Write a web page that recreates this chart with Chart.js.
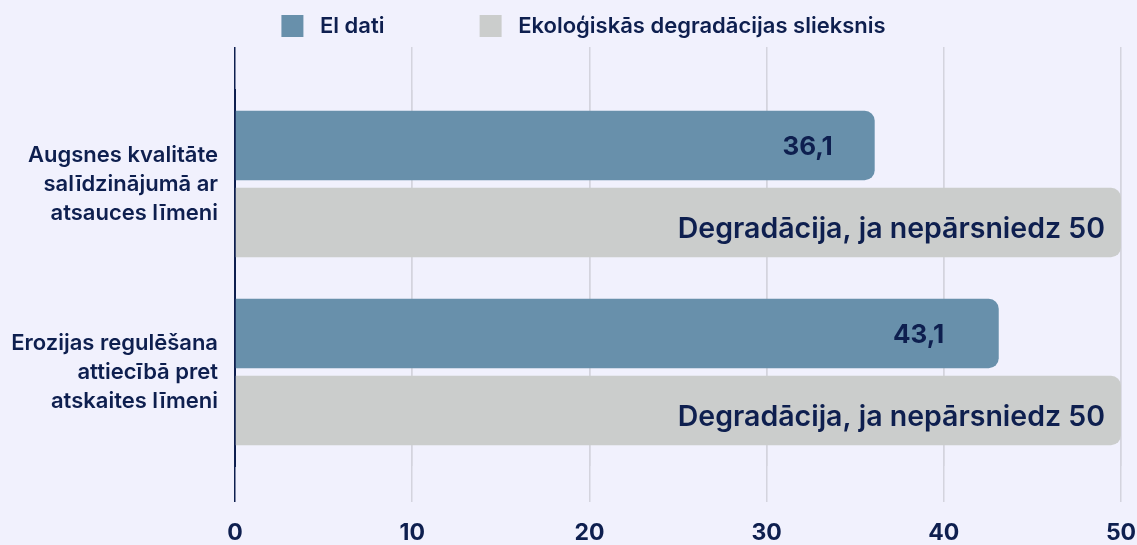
<!DOCTYPE html>
<html>
<head>
<meta charset="utf-8">
<script src="https://cdn.jsdelivr.net/npm/chart.js@4"></script>
<style>
    html, body { margin: 0; padding: 0; background: #f1f1fd; }
    #wrap { width: 1137px; height: 545px; }
</style>
</head>
<body>
<div id="wrap"><canvas id="chartDegradacija"></canvas></div>
<script>
const kategorijas = [
    ["Augsnes kvalitāte", "salīdzinājumā ar", "atsauces līmeni"],
    ["Erozijas regulēšana", "attiecībā pret", "atskaites līmeni"]
];
const elDati = [36.1, 43.1];
const slieksnis = [50, 50];
const slieksnaTeksts = ["Degradācija, ja nepārsniedz 50", "Degradācija, ja nepārsniedz 50"];
const asisMin = 0;
const asisMax = 50;
const asisSolis = 10;

const navy = "#0e1f4f";
const zils = "#6890ab";
const peleks = "#cbcdcc";
const rezgis = "#d4d4de";
const fonts = "Inter, 'Open Sans', sans-serif";

// teksti uz stabiņiem
const stabinuTeksti = {
    id: "stabinuTeksti",
    afterDatasetsDraw(chart) {
        const ctx = chart.ctx;
        ctx.save();
        ctx.fillStyle = navy;
        ctx.textBaseline = "middle";
        chart.data.datasets.forEach((ds, di) => {
            const meta = chart.getDatasetMeta(di);
            meta.data.forEach((bar, i) => {
                if (di === 0) {
                    ctx.font = "700 26px " + fonts;
                    ctx.textAlign = "center";
                    const x = bar.base + (bar.x - bar.base) * 0.895;
                    ctx.fillText(ds.data[i].toFixed(1).replace(".", ","), x, bar.y + 2);
                } else {
                    ctx.font = "600 28.5px " + fonts;
                    ctx.textAlign = "right";
                    ctx.fillText(slieksnaTeksts[i], bar.x - 16, bar.y + 7);
                }
            });
        });
        ctx.restore();
    }
};

function rezgaKrasa(c) {
    return c.index === 0 ? navy : rezgis;
}

new Chart(document.getElementById("chartDegradacija"), {
    type: "bar",
    data: {
        labels: kategorijas,
        datasets: [
            {
                label: "El dati",
                data: elDati,
                backgroundColor: zils,
                borderRadius: { topRight: 10, bottomRight: 10 },
                borderSkipped: false,
                categoryPercentage: 0.82,
                barPercentage: 0.9
            },
            {
                label: "Ekoloģiskās degradācijas slieksnis",
                data: slieksnis,
                backgroundColor: peleks,
                borderRadius: { topRight: 10, bottomRight: 10 },
                borderSkipped: false,
                categoryPercentage: 0.82,
                barPercentage: 0.9
            }
        ]
    },
    options: {
        indexAxis: "y",
        responsive: true,
        maintainAspectRatio: false,
        animation: false,
        // labā puse negatīva, lai leģenda būtu mazliet pa labi
        layout: { padding: { top: 3, right: -20, bottom: 0, left: 10 } },
        plugins: {
            legend: {
                position: "top",
                labels: {
                    boxWidth: 22,
                    boxHeight: 22,
                    padding: 12,
                    color: navy,
                    font: { family: fonts, size: 22, weight: "600" },
                    generateLabels(chart) {
                        return chart.data.datasets.map((ds, i) => ({
                            text: " " + ds.label + (i === 0 ? "               " : ""),
                            fillStyle: ds.backgroundColor,
                            strokeStyle: ds.backgroundColor,
                            lineWidth: 0,
                            fontColor: navy,
                            datasetIndex: i
                        }));
                    }
                }
            },
            tooltip: { enabled: false }
        },
        scales: {
            x: {
                position: "bottom",
                min: asisMin,
                max: asisMax,
                afterFit(scale) {
                    scale.height = 79;
                    scale.paddingRight = 16;
                },
                ticks: {
                    stepSize: asisSolis,
                    padding: 19,
                    color: navy,
                    font: { family: fonts, size: 23, weight: "700", lineHeight: 1.04 }
                },
                grid: { color: rezgaKrasa, lineWidth: 1.5, tickLength: 36 },
                border: { display: false }
            },
            xAugsa: {
                axis: "x",
                position: "top",
                min: asisMin,
                max: asisMax,
                ticks: { stepSize: asisSolis, display: false },
                grid: { color: rezgaKrasa, lineWidth: 1.5, tickLength: 43 },
                border: { display: false }
            },
            y: {
                offset: true,
                afterFit(scale) { scale.width = 225; },
                ticks: {
                    padding: 9,
                    color: navy,
                    font: { family: fonts, size: 22, weight: "600", lineHeight: 1.32 }
                },
                grid: { display: false },
                border: { display: true, color: navy, width: 2 }
            }
        }
    },
    plugins: [stabinuTeksti]
});
</script>
</body>
</html>
